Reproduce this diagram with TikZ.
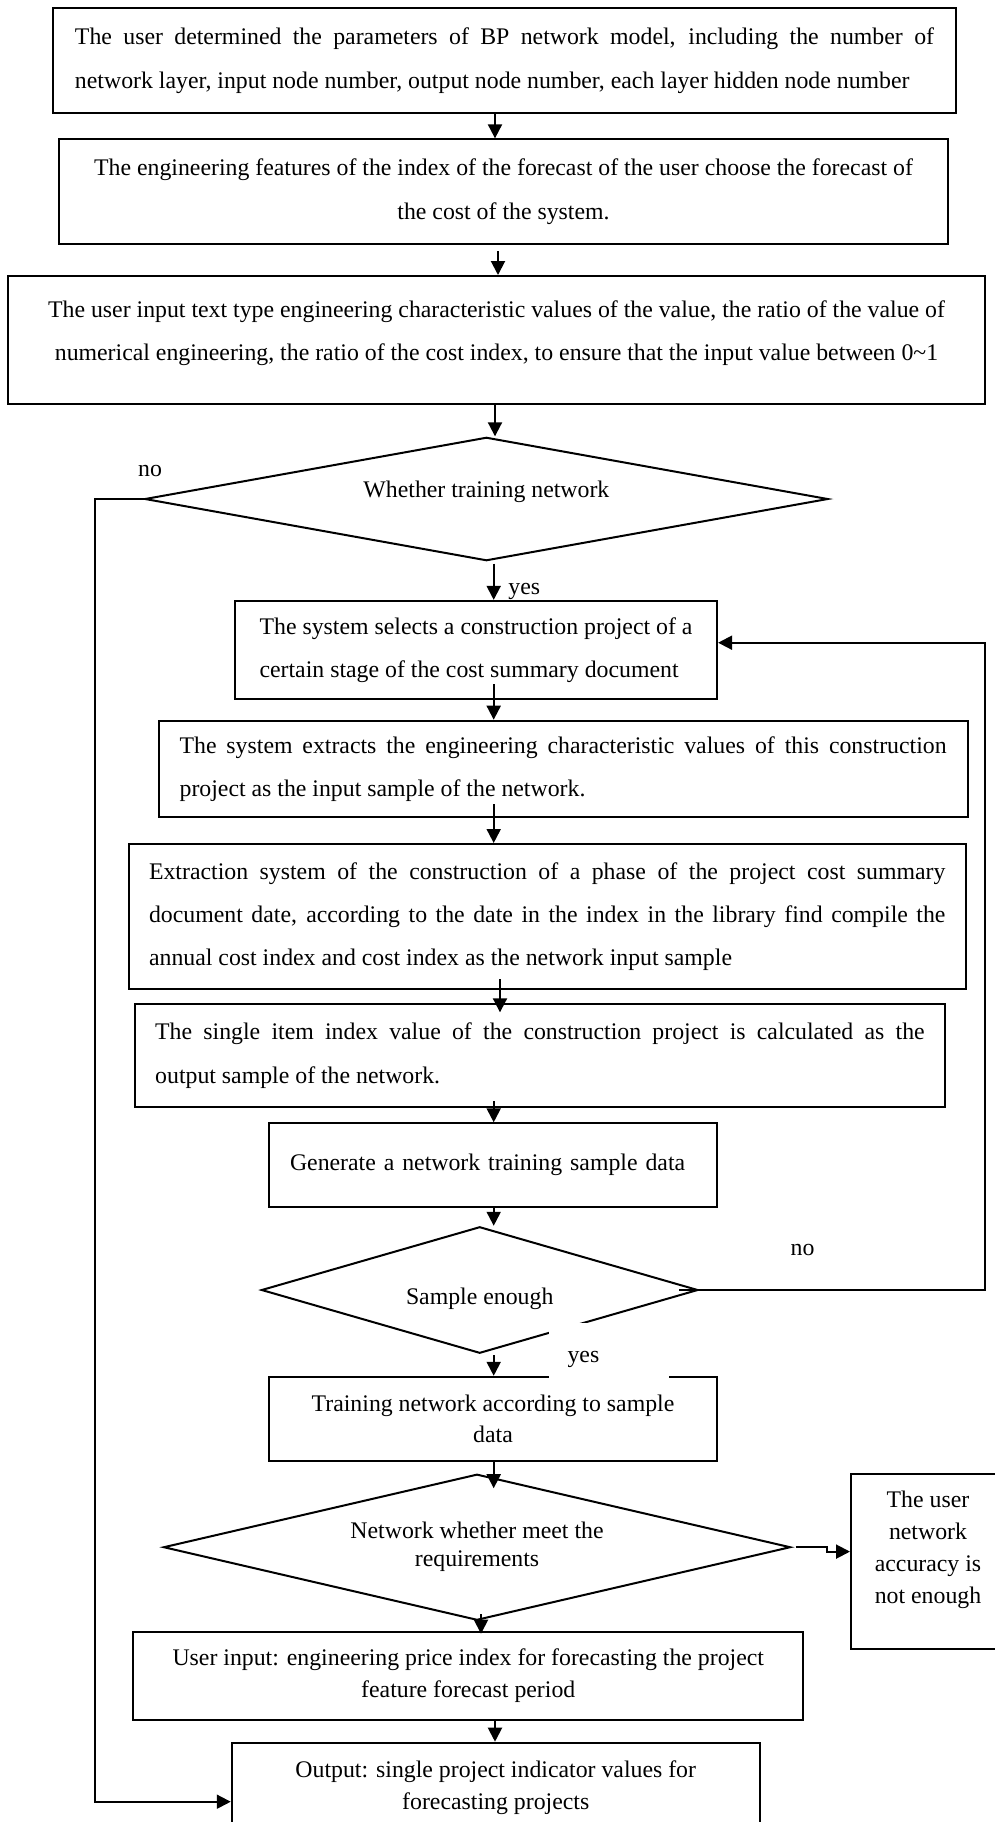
\documentclass[tikz,border=0pt]{standalone}
\usepackage{fontspec}
\setmainfont{Liberation Serif}
\usetikzlibrary{shapes.geometric,arrows.meta}
\hyphenpenalty=10000
\exhyphenpenalty=10000
\tolerance=9999
\begin{document}
\begin{tikzpicture}[x=0.5pt,y=-0.5pt,
  every node/.style={inner sep=0pt},
  txt/.style={font=\fontsize{11.9pt}{21.7pt}\selectfont},
  txts/.style={font=\fontsize{11.9pt}{15.8pt}\selectfont},
  box/.style={draw,line width=1pt,rectangle,inner sep=0pt},
  dia/.style={draw,line width=1pt,diamond,inner sep=0pt},
  conn/.style={line width=1pt,-{Triangle[length=7pt,width=7pt]}},
  wlbl/.style={fill=white,inner sep=0pt,txts}]
\useasboundingbox (0,0) rectangle (995,1822);

% boxes and decisions
\node[box,txt,minimum width=451.75pt,minimum height=52.2pt,text width=429.5pt,align=justify] (b1) at (504.5,60.5) {The user determined the parameters of BP network model, including the number of\linebreak network layer, input node number, output node number, each layer hidden node number};

\node[box,txt,minimum width=444.5pt,minimum height=52.35pt,align=center] (b2) at (503.5,191.7) {The engineering features of the index of the forecast of the user choose the forecast of\\the cost of the system.};

\node[box,txt,minimum width=488.9pt,minimum height=64pt,align=center,text depth=9.6pt] (b3) at (496.5,340) {The user input text type engineering characteristic values of the value, the ratio of the value of\\numerical engineering, the ratio of the cost index, to ensure that the input value between 0\textasciitilde 1};

\node[dia,txt,aspect=5.5,minimum width=341.65pt,minimum height=61.7pt] (d1) at (486.4,499) {\raisebox{1pt}[0pt][0pt]{Whether training network}};

\node[box,txt,minimum width=241.1pt,minimum height=49.15pt,align=left] (b4) at (476,650) {The system selects a construction project of a\\certain stage of the cost summary document};

\node[box,txt,minimum width=404.5pt,minimum height=48.3pt,text width=383.5pt,align=justify] (b5) at (563.1,769) {The system extracts the engineering characteristic values of this construction\linebreak project as the input sample of the network.};

\node[box,txt,minimum width=418.45pt,minimum height=72.65pt,text width=398.2pt,align=justify] (b6) at (547.25,916.65) {Extraction system of the construction of a phase of the project cost summary\linebreak document date, according to the date in the index in the library find compile the\linebreak annual cost index and cost index as the network input sample};

\node[box,txt,minimum width=405.45pt,minimum height=51.5pt,text width=384.75pt,align=justify] (b7) at (539.95,1055.8) {The single item index value of the construction project is calculated as the\linebreak output sample of the network.};

\node[box,txt,minimum width=224pt,minimum height=41.7pt,text width=203pt,align=left] (b8) at (493,1165) {Generate a network training sample data};

\node[dia,txt,aspect=3.45,minimum width=218.3pt,minimum height=63.25pt] (d2) at (479.7,1290) {\raisebox{-7pt}[0pt][0pt]{Sample enough}};

\node[box,txts,minimum width=224pt,minimum height=41.95pt,align=center] (b9) at (493,1418.75) {Training network according to sample\\data};

\node[dia,font=\fontsize{11.9pt}{14pt}\selectfont,aspect=4.3,minimum width=313.5pt,minimum height=73pt,align=center] (d3) at (477,1547.2) {Network whether meet the\\requirements};

\node[box,font=\fontsize{11.9pt}{16pt}\selectfont,minimum width=77pt,minimum height=87.5pt,align=center,text depth=14.4pt] (b10) at (928,1561.8) {The user\\network\\accuracy is\\not enough};

\node[box,txts,minimum width=335pt,minimum height=44.15pt,align=center] (b11) at (468.25,1675.85) {User input: engineering price index for forecasting the project\\feature forecast period};

\node[box,txts,minimum width=264pt,minimum height=44.8pt,align=center] (b12) at (495.75,1787.5) {Output: single project indicator values for\\forecasting projects};

% helper coordinates
\coordinate (xA) at (495,0);
\coordinate (xB) at (493.7,0);
\coordinate (xC) at (498,0);
\coordinate (xD) at (500,0);
\coordinate (xE) at (481,0);
\coordinate (nl) at (95,1801.7);
\coordinate (nr) at (985,642.7);

% connectors
\draw[conn] (b1.south -| xA) -- (b2.north -| xA);
\draw[conn] ([yshift=-3pt]b2.south -| xC) -- (b3.north -| xC);
\draw[conn] (b3.south -| xA) -- (d1.north -| xA);
\draw[conn] ([yshift=-1pt]d1.south -| xB) -- (b4.north -| xB);
\draw[conn] ([yshift=8pt]b4.south -| xB) -- (b5.north -| xB);
\draw[conn] ([yshift=7pt]b5.south -| xB) -- (b6.north -| xB);
\draw[conn] ([yshift=5.5pt]b6.south -| xD) -- ([yshift=-4.5pt]b7.north -| xD);
\draw[conn] ([yshift=3.5pt]b7.south -| xB) -- (b8.north -| xB);
\draw[conn] (b8.south -| xB) -- (d2.north -| xB);
\draw[conn] ([yshift=-0.5pt]d2.south -| xB) -- (b9.north -| xB);
\draw[conn] (b9.south -| xB) -- ([yshift=-7.5pt]d3.north -| xB);
\draw[conn] ([xshift=2pt]d3.east) -- ++(15.5pt,0) -- ++(0,-2.2pt) coordinate (s1) -- (s1 -| b10.west);
\draw[conn] ([yshift=3.5pt]d3.south -| xE) -- ([yshift=-1.5pt]b11.north -| xE);
\draw[conn] (b11.south -| xA) -- (b12.north -| xA);
\draw[conn] (d1.west) -| (nl) -- (nl -| b12.west);
\draw[conn] ([xshift=-10pt]d2.east) -| (nr) -- (nr -| b4.east);

% labels
\node[txts] (nol) at (150,471) {no};
\node[txts,anchor=west] (yes1) at (508,591) {yes};
\node[wlbl,anchor=south,minimum width=35.5pt,minimum height=39pt] (nor) at (802.5,1289.4) {no};
\node[wlbl,anchor=north west,minimum width=60pt,minimum height=27.5pt,label={[txts,anchor=center,xshift=-13pt,yshift=-4.25pt]center:yes}] (yes2) at (549,1323) {};
\end{tikzpicture}
\end{document}
